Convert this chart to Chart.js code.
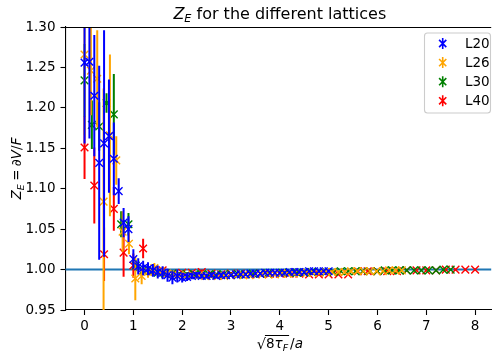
<!DOCTYPE html>
<html>
<head>
<meta charset="utf-8">
<script src="https://cdn.jsdelivr.net/npm/chart.js@4/dist/chart.umd.min.js"></script>
<style>
  html, body { margin: 0; padding: 0; background: #fff; }
  canvas { display: block; }
</style>
</head>
<body>
<canvas id="zeChart" width="498" height="354"></canvas>
<script>
// --- Data ---

const xTicks = [0, 1, 2, 3, 4, 5, 6, 7, 8];
const yTicks = [0.95, 1.00, 1.05, 1.10, 1.15, 1.20, 1.25, 1.30];
const refLine = 1.0;

const l20X = [0.0,0.1,0.2,0.3,0.4,0.5,0.6,0.7,0.8,0.9,1.0,1.1,1.2,1.3,1.4,1.5,1.6,1.7,1.8,1.9,2.0,2.1,2.2,2.3,2.4,2.5,2.6,2.7,2.8,2.9,3.0,3.1,3.2,3.3,3.4,3.5,3.6,3.7,3.8,3.9,4.0,4.1,4.2,4.3,4.4,4.5,4.6,4.7,4.8,4.9,5.0];
const l20Y = [1.256,1.257,1.215,1.132,1.156,1.165,1.137,1.097,1.058,1.050,1.013,1.004,1.002,1.001,0.999,0.997,0.996,0.993,0.990,0.992,0.990,0.991,0.992,0.993,0.992,0.992,0.993,0.992,0.993,0.993,0.993,0.994,0.994,0.994,0.995,0.995,0.995,0.996,0.996,0.996,0.996,0.996,0.997,0.997,0.997,0.997,0.998,0.998,0.998,0.998,0.998];
const l20Err = [0.100,0.095,0.075,0.120,0.140,0.070,0.045,0.016,0.018,0.016,0.012,0.010,0.009,0.008,0.008,0.008,0.008,0.008,0.008,0.008,0.006,0.005,0.004,0.004,0.003,0.003,0.003,0.003,0.003,0.002,0.002,0.002,0.002,0.002,0.002,0.002,0.002,0.002,0.002,0.002,0.002,0.002,0.002,0.002,0.002,0.002,0.002,0.002,0.002,0.002,0.002];

const l26X = [0.00,0.13,0.26,0.39,0.52,0.65,0.78,0.91,1.04,1.17,1.30,1.43,1.56,1.69,1.82,1.95,2.08,2.21,2.34,2.47,2.60,2.73,2.86,2.99,3.12,3.25,3.38,3.51,3.64,3.77,3.90,4.03,4.16,4.29,4.42,4.55,4.68,4.81,4.94,5.07,5.20,5.33,5.46,5.59,5.72,5.85,5.98,6.11,6.24,6.37,6.50];
const l26Y = [1.266,1.246,1.236,1.084,1.166,1.135,1.047,1.032,0.989,0.992,0.997,1.002,0.998,0.995,0.994,0.993,0.993,0.993,0.993,0.992,0.992,0.992,0.992,0.993,0.993,0.993,0.993,0.994,0.994,0.994,0.994,0.995,0.995,0.995,0.996,0.996,0.996,0.996,0.997,0.997,0.997,0.997,0.998,0.998,0.998,0.998,0.998,0.998,0.999,0.999,0.999];
const l26Err = [0.100,0.055,0.060,0.140,0.100,0.030,0.025,0.013,0.027,0.010,0.007,0.006,0.005,0.004,0.004,0.003,0.003,0.003,0.003,0.002,0.002,0.002,0.002,0.002,0.002,0.002,0.002,0.002,0.002,0.002,0.002,0.002,0.002,0.002,0.002,0.002,0.002,0.002,0.002,0.002,0.002,0.002,0.002,0.002,0.001,0.001,0.001,0.001,0.001,0.001,0.001];

const l30X = [0.00,0.15,0.30,0.45,0.60,0.75,0.90,1.05,1.20,1.35,1.50,1.65,1.80,1.95,2.10,2.25,2.40,2.55,2.70,2.85,3.00,3.15,3.30,3.45,3.60,3.75,3.90,4.05,4.20,4.35,4.50,4.65,4.80,4.95,5.10,5.25,5.40,5.55,5.70,5.85,6.00,6.15,6.30,6.45,6.60,6.75,6.90,7.05,7.20,7.35,7.50];
const l30Y = [1.234,1.179,1.177,1.206,1.192,1.056,1.056,1.005,0.999,0.998,0.996,0.995,0.995,0.994,0.994,0.994,0.994,0.994,0.994,0.994,0.994,0.994,0.994,0.995,0.995,0.995,0.995,0.996,0.996,0.996,0.996,0.997,0.997,0.997,0.997,0.998,0.998,0.998,0.998,0.998,0.998,0.999,0.999,0.999,0.999,0.999,0.999,0.999,0.999,1.000,1.000];
const l30Err = [0.045,0.030,0.030,0.012,0.050,0.016,0.014,0.007,0.006,0.005,0.005,0.004,0.004,0.003,0.003,0.003,0.002,0.002,0.002,0.002,0.002,0.002,0.002,0.002,0.002,0.002,0.002,0.002,0.002,0.002,0.002,0.002,0.002,0.002,0.002,0.001,0.001,0.001,0.001,0.001,0.001,0.001,0.001,0.001,0.001,0.001,0.001,0.001,0.001,0.001,0.001];

const l40X = [0.0,0.2,0.4,0.6,0.8,1.0,1.2,1.4,1.6,1.8,2.0,2.2,2.4,2.6,2.8,3.0,3.2,3.4,3.6,3.8,4.0,4.2,4.4,4.6,4.8,5.0,5.2,5.4,5.6,5.8,6.0,6.2,6.4,6.6,6.8,7.0,7.2,7.4,7.6,7.8,8.0];
const l40Y = [1.151,1.104,1.019,1.075,1.021,1.005,1.026,0.998,0.999,0.995,0.996,0.996,0.997,0.995,0.994,0.995,0.995,0.994,0.995,0.995,0.995,0.995,0.995,0.994,0.994,0.994,0.994,0.994,0.998,0.998,0.998,0.998,0.998,0.999,0.999,0.999,0.999,1.000,1.000,1.000,1.000];
const l40Err = [0.039,0.047,0.033,0.027,0.030,0.015,0.012,0.005,0.004,0.004,0.003,0.003,0.003,0.002,0.002,0.002,0.002,0.002,0.002,0.002,0.002,0.002,0.002,0.001,0.001,0.001,0.001,0.001,0.001,0.001,0.001,0.001,0.001,0.001,0.001,0.001,0.001,0.001,0.001,0.001,0.001];

const seriesLabels = ['L20', 'L26', 'L30', 'L40'];
const seriesColors = ['#0000ff', '#ffa500', '#008000', '#ff0000'];

// --- Helpers ---

const FONT = '"DejaVu Sans", sans-serif';
const TXT = 13.5;   // tick / legend / axis label size
const TITLE = 16;

function toPoints(xs, ys) {
    return xs.map((x, i) => ({ x: x, y: ys[i] }));
}

function makeSet(i, xs, ys, errs) {
    return {
        label: seriesLabels[i],
        data: toPoints(xs, ys),
        errs: errs,
        pointStyle: 'crossRot',
        pointRadius: 5.4,
        pointBorderWidth: 1.4,
        borderColor: seriesColors[i],
        backgroundColor: seriesColors[i],
        showLine: false
    };
}

// draws a run of text pieces (italic / subscript / extra gap) from x, returns end x
function drawPieces(ctx, pieces, x, y, size, measureOnly) {
    let cx = x;
    pieces.forEach(p => {
        if (p.gap) { cx += p.gap * size; return; }
        const s = p.sub ? size * 0.7 : size;
        ctx.font = (p.it ? 'oblique ' : '') + s + 'px ' + FONT;
        const w = ctx.measureText(p.t).width;
        if (!measureOnly) ctx.fillText(p.t, cx, y + (p.sub ? size * 0.2 : 0));
        cx += w;
    });
    return cx;
}

function piecesWidth(ctx, pieces, size) {
    return drawPieces(ctx, pieces, 0, 0, size, true);
}

// --- Plugins ---

const errorBars = {
    id: 'errorBars',
    beforeDatasetsDraw(chart) {
        const { ctx, chartArea: a, scales } = chart;
        const py = scales.y.getPixelForValue(refLine);
        ctx.save();
        ctx.strokeStyle = '#1f77b4';
        ctx.lineWidth = 2.1;
        ctx.beginPath();
        ctx.moveTo(a.left, py);
        ctx.lineTo(a.right, py);
        ctx.stroke();
        ctx.restore();
    },
    beforeDatasetDraw(chart, args) {
        const ds = chart.data.datasets[args.index];
        if (!ds.errs) return;
        const { ctx, chartArea: a, scales } = chart;
        ctx.save();
        ctx.beginPath();
        ctx.rect(a.left, a.top, a.right - a.left, a.bottom - a.top);
        ctx.clip();
        ctx.strokeStyle = ds.borderColor;
        ctx.lineWidth = 2;
        ds.data.forEach((p, i) => {
            const px = scales.x.getPixelForValue(p.x);
            ctx.beginPath();
            ctx.moveTo(px, scales.y.getPixelForValue(p.y - ds.errs[i]));
            ctx.lineTo(px, scales.y.getPixelForValue(p.y + ds.errs[i]));
            ctx.stroke();
        });
        ctx.restore();
    }
};

const decorations = {
    id: 'decorations',
    afterDraw(chart) {
        const { ctx, chartArea: a, scales } = chart;
        const mid = scales.x.getPixelForValue(4.0);
        ctx.save();
        ctx.fillStyle = '#000';
        ctx.textBaseline = 'alphabetic';

        // top spine
        ctx.strokeStyle = '#000';
        ctx.lineWidth = 1.1;
        ctx.beginPath();
        ctx.moveTo(a.left, Math.round(a.top) + 0.5);
        ctx.lineTo(a.right, Math.round(a.top) + 0.5);
        ctx.stroke();

        // title
        const title = [{ t: 'Z', it: true }, { t: 'E', it: true, sub: true }, { t: ' for the different lattices' }];
        const tw = piecesWidth(ctx, title, TITLE);
        drawPieces(ctx, title, mid - tw / 2, 19, TITLE);

        // x label: sqrt(8 tau_F)/a
        const inner = [{ t: '8' }, { t: 'τ', it: true }, { t: 'F', it: true, sub: true }];
        const tail = [{ t: '/' }, { t: 'a', it: true }];
        ctx.font = (TXT + 1) + 'px ' + FONT;
        const rw = ctx.measureText('√').width;
        const iw = piecesWidth(ctx, inner, TXT);
        const taw = piecesWidth(ctx, tail, TXT);
        const x0 = mid - (rw + iw + 2 + taw) / 2;
        const by = 348;
        ctx.font = (TXT + 1) + 'px ' + FONT;
        ctx.fillText('√', x0, by + 1);
        const ix = x0 + rw;
        drawPieces(ctx, inner, ix, by, TXT);
        ctx.lineWidth = 1;
        ctx.beginPath();
        ctx.moveTo(ix - 1, by - 12.5);
        ctx.lineTo(ix + iw + 1, by - 12.5);
        ctx.stroke();
        drawPieces(ctx, tail, ix + iw + 2, by, TXT);

        // y label
        const ylab = [{ t: 'Z', it: true }, { t: 'E', it: true, sub: true }, { gap: 0.25 }, { t: '=' }, { gap: 0.25 },
                      { t: '∂' }, { t: 'V', it: true }, { t: '/' }, { t: 'F', it: true }];
        const yw = piecesWidth(ctx, ylab, TXT);
        ctx.save();
        ctx.translate(21, (a.top + a.bottom) / 2);
        ctx.rotate(-Math.PI / 2);
        drawPieces(ctx, ylab, -yw / 2, 0, TXT);
        ctx.restore();

        // legend
        const lx = 424.5, ly = 33, lw = 66, lh = 80, r = 3;
        ctx.beginPath();
        ctx.moveTo(lx + r, ly);
        ctx.arcTo(lx + lw, ly, lx + lw, ly + lh, r);
        ctx.arcTo(lx + lw, ly + lh, lx, ly + lh, r);
        ctx.arcTo(lx, ly + lh, lx, ly, r);
        ctx.arcTo(lx, ly, lx + lw, ly, r);
        ctx.closePath();
        ctx.fillStyle = 'rgba(255,255,255,0.8)';
        ctx.fill();
        ctx.strokeStyle = '#cccccc';
        ctx.lineWidth = 1.1;
        ctx.stroke();
        seriesLabels.forEach((lab, i) => {
            const cy = 43.5 + i * 19.1;
            const mx = 442.7;
            ctx.strokeStyle = seriesColors[i];
            ctx.lineWidth = 1.6;
            ctx.beginPath();
            ctx.moveTo(mx, cy - 5.5);
            ctx.lineTo(mx, cy + 5.5);
            ctx.moveTo(mx - 3.6, cy - 3.6);
            ctx.lineTo(mx + 3.6, cy + 3.6);
            ctx.moveTo(mx - 3.6, cy + 3.6);
            ctx.lineTo(mx + 3.6, cy - 3.6);
            ctx.stroke();
            ctx.fillStyle = '#000';
            ctx.font = TXT + 'px ' + FONT;
            ctx.textBaseline = 'middle';
            ctx.fillText(lab, 465, cy + 0.5);
        });
        ctx.restore();
    }
};

// --- Chart ---

const ctx = document.getElementById('zeChart').getContext('2d');
new Chart(ctx, {
    type: 'scatter',
    data: {
        datasets: [
            makeSet(0, l20X, l20Y, l20Err),
            makeSet(1, l26X, l26Y, l26Err),
            makeSet(2, l30X, l30Y, l30Err),
            makeSet(3, l40X, l40Y, l40Err)
        ]
    },
    options: {
        responsive: false,
        devicePixelRatio: 1,
        animation: false,
        layout: { padding: { top: 27, left: 0, right: 0, bottom: 0 } },
        plugins: {
            legend: { display: false },
            tooltip: { enabled: false }
        },
        scales: {
            x: {
                type: 'linear',
                min: -0.39,
                max: 8.33,
                afterBuildTicks: s => { s.ticks = xTicks.map(v => ({ value: v })); },
                afterFit: s => { s.height = 44; },
                ticks: {
                    color: '#000',
                    font: { family: FONT, size: TXT },
                    padding: 3,
                    maxRotation: 0,
                    callback: v => String(v)
                },
                grid: { drawOnChartArea: false, tickLength: 5, tickWidth: 1.1, color: '#000' },
                border: { color: '#000', width: 1.1 }
            },
            y: {
                min: 0.95,
                max: 1.30,
                afterBuildTicks: s => { s.ticks = yTicks.map(v => ({ value: v })); },
                afterFit: s => { s.width = 65.5; },
                ticks: {
                    color: '#000',
                    font: { family: FONT, size: TXT },
                    padding: 5,
                    callback: v => Number(v).toFixed(2)
                },
                grid: { drawOnChartArea: false, tickLength: 5, tickWidth: 1.1, color: '#000' },
                border: { color: '#000', width: 1.1 }
            }
        }
    },
    plugins: [errorBars, decorations]
});
</script>
</body>
</html>
